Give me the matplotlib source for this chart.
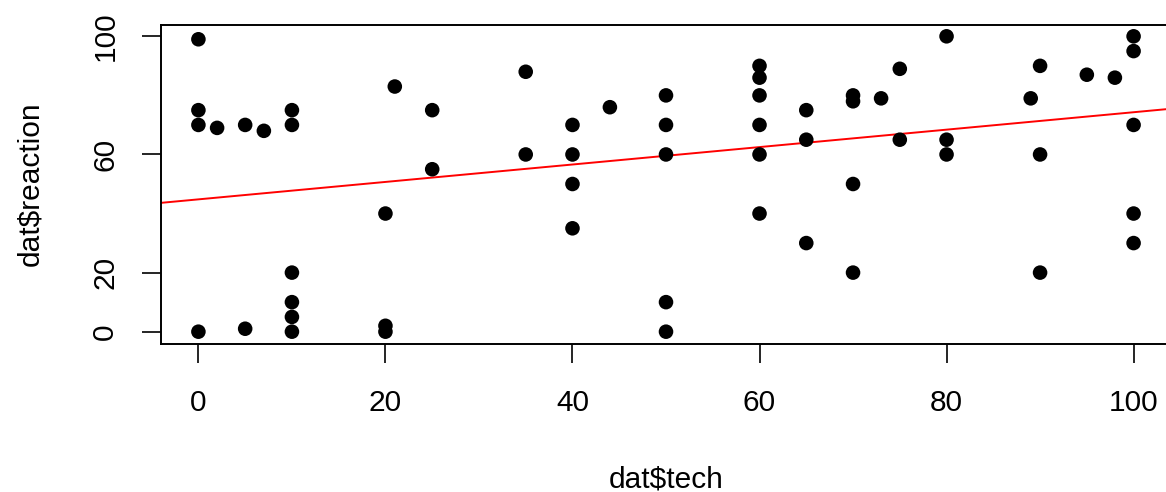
import matplotlib.pyplot as plt
import numpy as np

plt.rcParams['font.family'] = ['Liberation Sans', 'DejaVu Sans']

tech = [0, 0, 0, 2, 5, 7, 10, 10, 21, 25, 25, 20, 10, 10, 10, 10, 0, 5, 20, 20,
        35, 35, 40, 40, 40, 40, 44, 50, 50, 50, 50, 50,
        60, 60, 60, 60, 60, 60, 65, 65, 65,
        70, 70, 70, 70, 73, 75, 75, 80, 80, 80,
        89, 90, 90, 90, 95, 98, 100, 100, 100, 100, 100]
reaction = [99, 75, 70, 69, 70, 68, 75, 70, 83, 75, 55, 40, 20, 10, 5, 0, 0, 1, 2, 0,
            88, 60, 70, 60, 50, 35, 76, 80, 70, 60, 10, 0,
            90, 86, 80, 70, 60, 40, 75, 65, 30,
            80, 78, 50, 20, 79, 89, 65, 100, 65, 60,
            79, 90, 60, 20, 87, 86, 100, 95, 70, 40, 30]
x_ticks = [0, 20, 40, 60, 80, 100]
y_ticks = [0, 20, 60, 100]

# regression line (abline of lm)
fit_intercept = 44.8
fit_slope = 0.295

fig = plt.figure(figsize=(11.66, 4.92), dpi=100)
# plot region runs slightly past the right edge, as in the cropped original
ax = fig.add_axes([161 / 1166, (492 - 343.5) / 492, (1171 - 161) / 1166, (343.5 - 24.5) / 492])

ax.scatter(tech, reaction, s=110, c='black', edgecolors='none', zorder=3)

xs = np.array([-10, 110])
ax.plot(xs, fit_intercept + fit_slope * xs, color='red', linewidth=1.4, zorder=2)

ax.set_xlim(-4, 104)
ax.set_ylim(-4, 104)
ax.set_xticks(x_ticks)
ax.set_yticks(y_ticks)
ax.set_yticklabels([str(v) for v in y_ticks], rotation=90, va='center')

for sp in ax.spines.values():
    sp.set_linewidth(1.4)
ax.tick_params(length=14, width=1.2, labelsize=21.5, pad=19)
ax.tick_params(axis='y', pad=16)

ax.set_xlabel('dat$tech', fontsize=21.5, labelpad=35)
ax.set_ylabel('dat$reaction', fontsize=21.5, labelpad=34)

fig.savefig('out.png', dpi=100)
